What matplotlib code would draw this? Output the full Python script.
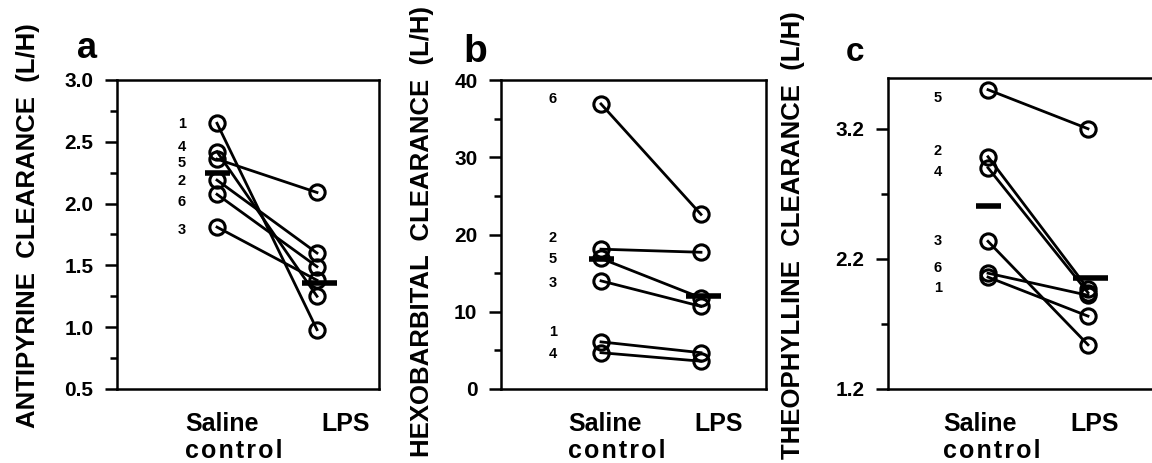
import numpy as np
import matplotlib
matplotlib.use("Agg")
import matplotlib.pyplot as plt
from matplotlib.ticker import FixedLocator

plt.rcParams.update({
    "font.family": ["Liberation Sans", "DejaVu Sans"],
    "font.weight": "bold",
    "axes.linewidth": 1.8,
})

# ── data ─────────────────────────────────────────────────────
subjects = [1, 2, 3, 4, 5, 6]
groups = ["Saline\ncontrol", "LPS"]

antipyrine_saline = [2.65, 2.19, 1.81, 2.42, 2.36, 2.075]
antipyrine_lps    = [0.98, 1.60, 1.38, 1.25, 2.09, 1.49]
antipyrine_bar    = [2.25, 1.36]

hexobarb_saline = [6.1, 18.1, 14.0, 4.7, 16.9, 36.9]
hexobarb_lps    = [4.7, 17.7, 10.7, 3.6, 11.8, 22.6]
hexobarb_bar    = [16.8, 12.0]

theoph_saline = [2.06, 2.985, 2.335, 2.90, 3.50, 2.09]
theoph_lps    = [1.76, 1.97, 1.54, 1.94, 3.20, 1.92]
theoph_bar    = [2.605, 2.05]

# subject number label heights (staggered so they don't overlap)
antipyrine_lab_y = [2.64, 2.18, 1.79, 2.46, 2.33, 2.01]
hexobarb_lab_y   = [7.4, 19.6, 13.7, 4.5, 16.8, 37.5]
theoph_lab_y     = [1.98, 3.03, 2.335, 2.87, 3.44, 2.13]

panels = [
    dict(letter="a", ylabel="ANTIPYRINE  CLEARANCE  (L/H)",
         sal=antipyrine_saline, lps=antipyrine_lps, bar=antipyrine_bar,
         lab_y=antipyrine_lab_y, lab_x=-0.35,
         ylim=(0.5, 3.0), major=np.arange(0.5, 3.01, 0.5), minor=np.arange(0.75, 3.0, 0.5),
         fmt="{:.1f}", rect=[117, 80, 262, 309], ylab_xy=(-0.294, 0.53),
         letter_xy=(87, 58), letter_fs=26, xlab_x=(-0.32, 1.29)),
    dict(letter="b", ylabel="HEXOBARBITAL  CLEARANCE  (L/H)",
         sal=hexobarb_saline, lps=hexobarb_lps, bar=hexobarb_bar,
         lab_y=hexobarb_lab_y, lab_x=-0.48,
         ylim=(0, 40), major=np.arange(0, 41, 10), minor=np.arange(5, 40, 10),
         fmt="{:.0f}", rect=[501, 80, 265, 309], ylab_xy=(-0.253, 0.51),
         letter_xy=(475, 62), letter_fs=28, xlab_x=(-0.33, 1.18)),
    dict(letter="c", ylabel="THEOPHYLLINE  CLEARANCE  (L/H)",
         sal=theoph_saline, lps=theoph_lps, bar=theoph_bar,
         lab_y=theoph_lab_y, lab_x=-0.50,
         ylim=(1.2, 3.59), major=[1.2, 2.2, 3.2], minor=[1.7, 2.7],
         fmt="{:.1f}", rect=[888, 78, 268, 311], ylab_xy=(-0.31, 0.495),
         letter_xy=(855, 61), letter_fs=24, xlab_x=(-0.45, 1.07)),
]

W, H = 1152, 463
fig = plt.figure(figsize=(W / 100, H / 100), dpi=100)

for p in panels:
    l, t, w, h = p["rect"]
    ax = fig.add_axes([l / W, 1 - (t + h) / H, w / W, h / H])
    ax.set_xlim(-1.0, -1.0 + w / 100)
    ax.set_ylim(*p["ylim"])

    # paired lines, hollow circles
    for s, a, b in zip(subjects, p["sal"], p["lps"]):
        ax.plot([0, 1], [a, b], color="black", linewidth=2.0,
                marker="o", markersize=11, markerfacecolor="none",
                markeredgecolor="black", markeredgewidth=2.2, zorder=3)

    # group bars
    ax.plot([-0.12, 0.13], [p["bar"][0]] * 2, color="black", linewidth=4,
            solid_capstyle="butt", zorder=4)
    ax.plot([0.85, 1.20], [p["bar"][1]] * 2, color="black", linewidth=4,
            solid_capstyle="butt", zorder=4)

    # subject numbers
    for s, yy in zip(subjects, p["lab_y"]):
        ax.text(p["lab_x"], yy, str(s), fontsize=10.5, fontweight="bold",
                ha="center", va="center")

    # y axis
    ax.yaxis.set_major_locator(FixedLocator(p["major"]))
    ax.yaxis.set_minor_locator(FixedLocator(p["minor"]))
    ax.set_yticklabels([p["fmt"].format(v) for v in p["major"]])
    ax.tick_params(axis="y", which="major", direction="out", length=9, width=1.8,
                   labelsize=15, pad=8)
    ax.tick_params(axis="y", which="minor", direction="out", length=5, width=1.8)
    ax.set_xticks([])
    ax.set_ylabel(p["ylabel"], fontsize=18.5, fontweight="bold")
    ax.yaxis.set_label_coords(*p["ylab_xy"])

    # group labels below the axis
    trans = ax.get_xaxis_transform()
    ax.text(p["xlab_x"][0], -0.075, "Saline\nc\u200ao\u200an\u200at\u200ar\u200ao\u200al",
            transform=trans, fontsize=18, fontweight="bold", ha="left", va="top",
            linespacing=1.15)
    ax.text(p["xlab_x"][1], -0.075, groups[1], transform=trans, fontsize=18,
            fontweight="bold", ha="center", va="top")

    if p["letter"] == "c":
        ax.spines["right"].set_visible(False)

    fig.text(p["letter_xy"][0] / W, 1 - p["letter_xy"][1] / H, p["letter"],
             fontsize=p["letter_fs"], fontweight="bold", ha="center", va="baseline")

fig.savefig("out.png", dpi=100, facecolor="white")
